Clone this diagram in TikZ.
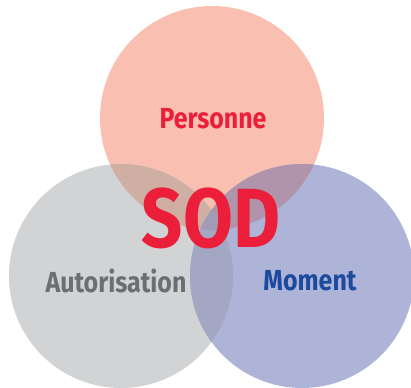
\documentclass[tikz,border=0pt]{standalone}
\usepackage{fontspec}
\setmainfont{Fira Sans}
\newfontfamily\vennfont[FakeStretch=0.86]{Fira Sans}
\definecolor{persfill}{HTML}{F9BFB0}
\definecolor{autofill}{HTML}{D1D3D4}
\definecolor{momfill}{HTML}{AEB3D8}
\definecolor{persauto}{HTML}{CFAFA4}
\definecolor{persmom}{HTML}{B094AB}
\definecolor{automom}{HTML}{A3A7C3}
\definecolor{allthree}{HTML}{A09BB6}
\definecolor{sodred}{HTML}{EC1F3A}
\definecolor{autotext}{HTML}{6D6E71}
\definecolor{momtext}{HTML}{1C4A9C}

\begin{document}
\begin{tikzpicture}[x=1pt, y=-1pt,
    set/.style={font=\vennfont\bfseries\fontsize{29}{29}\selectfont},
    title/.style={font=\vennfont\bfseries\fontsize{84}{84}\selectfont, text=sodred},
]
    \useasboundingbox (0,0) rectangle (411,387);
    \clip (0,0) rectangle (411,387);

    \coordinate (pers) at (212,118);
    \coordinate (auto) at (121,276);
    \coordinate (mom) at (302,276);

    % circles
    \fill[persfill] (pers) circle[radius=112pt];
    \fill[autofill] (auto) circle[radius=112pt];
    \fill[momfill] (mom) circle[radius=112pt];

    % overlaps
    \begin{scope}
        \clip (pers) circle[radius=112pt];
        \fill[persauto] (auto) circle[radius=112pt];
        \fill[persmom] (mom) circle[radius=112pt];
    \end{scope}
    \begin{scope}
        \clip (auto) circle[radius=112pt];
        \fill[automom] (mom) circle[radius=112pt];
        \clip (pers) circle[radius=112pt];
        \fill[allthree] (mom) circle[radius=112pt];
    \end{scope}

    \node[set, text=sodred] (persLabel) at (213,119) {Personne};
    \node[set, text=autotext] (autoLabel) at (116,281) {Autorisation};
    \node[set, text=momtext] (momLabel) at (310,281) {Moment};
    \node[title] (sod) at (211,218) {SOD};
\end{tikzpicture}
\end{document}
